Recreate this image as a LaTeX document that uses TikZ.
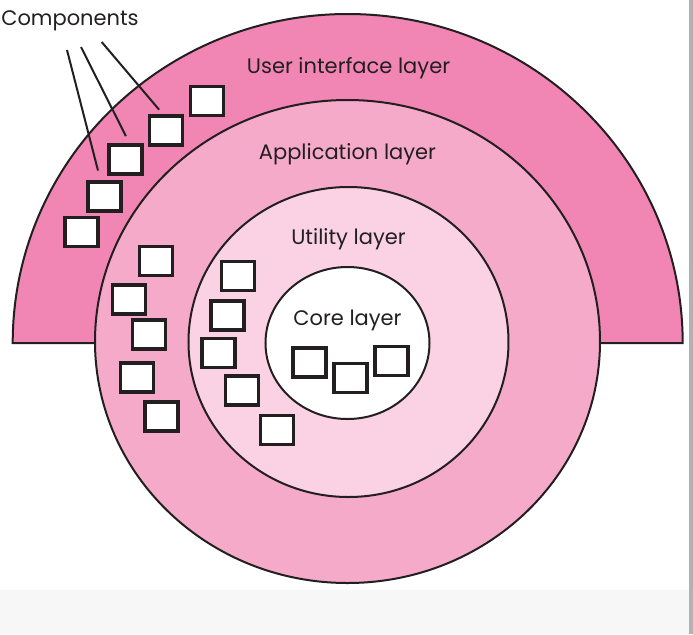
\documentclass[tikz,border=0pt]{standalone}
\usepackage{fontspec}
\setmainfont{Poppins}

\definecolor{uipink}{RGB}{241,133,180}
\definecolor{apppink}{RGB}{245,170,201}
\definecolor{utilpink}{RGB}{250,210,228}
\definecolor{inkblack}{RGB}{35,31,32}

\tikzset{
  comp/.style={draw=inkblack,line width=1.75pt,fill=white,inner sep=0pt,
    minimum width=16.5pt,minimum height=14.5pt},
  layer/.style={draw=inkblack,line width=1pt},
  lbl/.style={text=inkblack,inner sep=0pt,font=\fontsize{10.5}{12}\selectfont},
  lead/.style={draw=inkblack,line width=1pt}
}

\begin{document}
\begin{tikzpicture}[x=0.5pt,y=-0.5pt]

\useasboundingbox (0,0) rectangle (693,634);
\fill[gray!6] (0,590) rectangle (689,634);
\fill[gray!60] (689,0) rectangle (693,634);

\draw[layer,fill=uipink] (12.7,343)
  arc[start angle=180,end angle=360,x radius=335,y radius=329] -- cycle;
\draw[layer,fill=apppink] (347.5,341.5) ellipse[x radius=252.5,y radius=241.5];
\draw[layer,fill=utilpink] (348.5,342) ellipse[x radius=160,y radius=155];
\draw[layer,fill=white] (347.5,343) ellipse[x radius=82,y radius=76];

\node[lbl] (uilbl) at (348.5,68) {User interface layer};
\node[lbl] (applbl) at (347.5,154) {Application layer};
\node[lbl] (utillbl) at (348.5,239) {Utility layer};
\node[lbl] (corelbl) at (347.5,320) {Core layer};
\node[lbl] (complbl) at (70,21) {Components};

\foreach \n/\x/\y in {1/81.5/232,2/104.5/196.5,3/125.5/159.5,4/166/130.5,5/207/101}
  \node[comp] (ui\n) at (\x,\y) {};

\foreach \n/\x/\y in {1/156/261,2/129/299.5,3/149/334.5,4/137/377.5,5/161.5/416.5}
  \node[comp] (app\n) at (\x,\y) {};

\foreach \n/\x/\y in {1/238/276,2/227.5/315.5,3/218.5/353,4/242/390.5,5/277/430}
  \node[comp] (util\n) at (\x,\y) {};

\foreach \n/\x/\y in {1/309.5/362.5,2/350.5/378,3/391.5/361}
  \node[comp] (core\n) at (\x,\y) {};

\coordinate (t1) at (67,50);
\coordinate (t2) at (81,47);
\coordinate (t3) at (101.7,42);

\foreach \s/\b/\dx/\sh in {1/2/-2pt/5pt,2/3/2pt/4pt,3/4/-1.5pt/3pt}
  \draw[lead,shorten >=\sh] (t\s) -- ([xshift=\dx]ui\b.north);

\end{tikzpicture}
\end{document}
